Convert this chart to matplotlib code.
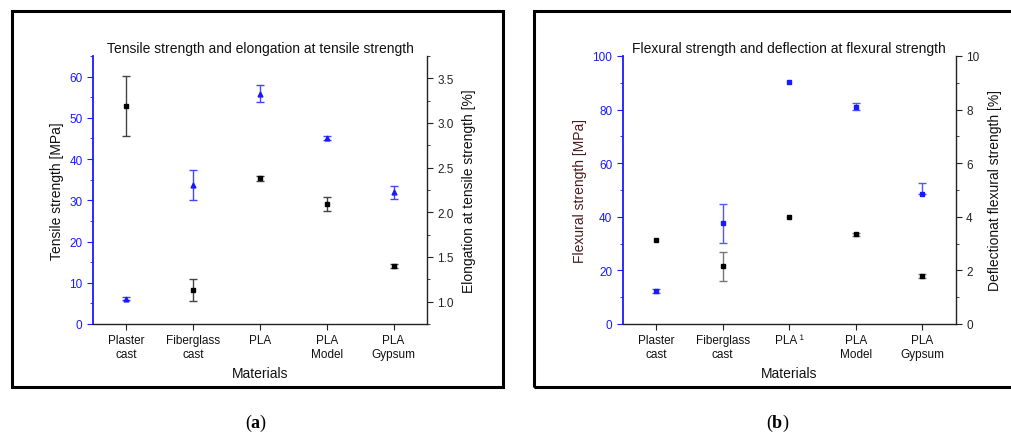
import numpy as np
import matplotlib
matplotlib.use('Agg')
import matplotlib.pyplot as plt
from matplotlib.patches import Rectangle
from matplotlib.ticker import MultipleLocator

plt.rcParams['font.family'] = ['Liberation Sans', 'DejaVu Sans']
plt.rcParams['mathtext.fontset'] = 'custom'
plt.rcParams['mathtext.bf'] = 'Liberation Serif:bold'
plt.rcParams['mathtext.rm'] = 'Liberation Serif'

BLUE = '#1a1aff'
DARK = '#222222'

# (a) tensile test
labels_a = ['Plaster\ncast', 'Fiberglass\ncast', 'PLA', 'PLA\nModel', 'PLA\nGypsum']
tensile = [6.1, 33.7, 55.9, 45.1, 31.9]
tensile_err = [0.4, 3.6, 2.1, 0.5, 1.5]
elong = [3.19, 1.13, 2.38, 2.09, 1.40]
elong_err = [0.34, 0.125, 0.03, 0.08, 0.02]

# (b) flexural test
labels_b = ['Plaster\ncast', 'Fiberglass\ncast', 'PLA ¹', 'PLA\nModel', 'PLA\nGypsum']
flex = [12.3, 37.6, 90.3, 81.0, 48.6]
flex_err_lo = [0.7, 7.2, 0.0, 1.3, 0.0]
flex_err_hi = [0.7, 7.2, 0.0, 1.3, 4.1]
defl = [3.12, 2.16, 4.00, 3.35, 1.78]
defl_err = [0.0, 0.54, 0.0, 0.05, 0.08]

W, H = 1011, 435
fig = plt.figure(figsize=(W / 100, H / 100), dpi=100)

# outer frames
for x0, x1 in [(12, 503), (534, 1020)]:
    fig.patches.append(Rectangle((x0 / W, 1 - 388 / H), (x1 - x0) / W, (388 - 12) / H,
                                 transform=fig.transFigure, fill=False,
                                 edgecolor='black', linewidth=2.2))


def points(ax, xs, ys, lo, hi, marker, color, ecolor, ms):
    # markers for every point, error bars only where there is a spread
    ax.plot(xs, ys, linestyle='none', marker=marker, color=color, ms=ms, zorder=4)
    for xi, yi, l, h in zip(xs, ys, lo, hi):
        if l > 0 or h > 0:
            ax.errorbar([xi], [yi], yerr=[[l], [h]], fmt='none', ecolor=ecolor,
                        elinewidth=1.0, capsize=3, capthick=1.0, zorder=3)


def style(ax, ax2, left_label, right_label, left_label_color):
    ax.spines['top'].set_visible(False)
    ax.spines['right'].set_visible(False)
    ax.spines['left'].set_color(BLUE)
    ax.spines['left'].set_linewidth(1.3)
    ax.spines['bottom'].set_color(DARK)
    ax.spines['bottom'].set_linewidth(1.0)
    for s in ['top', 'left', 'bottom']:
        ax2.spines[s].set_visible(False)
    ax2.spines['right'].set_color(DARK)
    ax2.spines['right'].set_linewidth(1.0)
    ax.tick_params(axis='y', which='both', colors=BLUE, labelsize=8.5, direction='out')
    ax.tick_params(axis='y', which='major', length=4)
    ax.tick_params(axis='y', which='minor', length=2.5)
    ax.tick_params(axis='x', colors=DARK, labelcolor='#111111', labelsize=8.5, length=4)
    ax2.tick_params(axis='y', which='both', colors=DARK, labelsize=8.5, direction='out')
    ax2.tick_params(axis='y', which='major', length=4)
    ax2.tick_params(axis='y', which='minor', length=2.5)
    ax.set_ylabel(left_label, fontsize=10, color=left_label_color, labelpad=4)
    ax2.set_ylabel(right_label, fontsize=10, color='#111111', labelpad=6)
    ax.set_xlabel('Materials', fontsize=10, color='#111111', labelpad=4)
    ax.set_xlim(0.5, 5.5)
    ax.set_facecolor('none')


x = np.arange(1, 6)

# panel (a)
axa = fig.add_axes([93 / W, 1 - 325 / H, 334 / W, 268 / H])
axa2 = axa.twinx()
points(axa2, x, elong, elong_err, elong_err, 's', 'black', '#444444', 3.2)
points(axa, x, tensile, tensile_err, tensile_err, '^', BLUE, '#4444ff', 3.5)
axa.set_zorder(axa2.get_zorder() + 1)
axa.set_ylim(0, 65)
axa.yaxis.set_major_locator(MultipleLocator(10))
axa.yaxis.set_minor_locator(MultipleLocator(5))
axa2.set_ylim(0.75, 3.75)
axa2.set_yticks([1.0, 1.5, 2.0, 2.5, 3.0, 3.5])
axa2.yaxis.set_minor_locator(MultipleLocator(0.25))
axa.set_xticks(x, labels_a)
style(axa, axa2, 'Tensile strength [MPa]', 'Elongation at tensile strength [%]', '#111111')
axa.set_title('Tensile strength and elongation at tensile strength', fontsize=10,
              color='#111111', pad=3)

# panel (b)
axb = fig.add_axes([622.7 / W, 1 - 325 / H, 333 / W, 268 / H])
axb2 = axb.twinx()
points(axb2, x, defl, defl_err, defl_err, 's', 'black', '#777777', 3.2)
points(axb, x, flex, flex_err_lo, flex_err_hi, 's', BLUE, '#5555ff', 3.2)
axb.set_zorder(axb2.get_zorder() + 1)
axb.set_ylim(0, 100)
axb.yaxis.set_major_locator(MultipleLocator(20))
axb.yaxis.set_minor_locator(MultipleLocator(10))
axb2.set_ylim(0, 10)
axb2.yaxis.set_major_locator(MultipleLocator(2))
axb2.yaxis.set_minor_locator(MultipleLocator(1))
axb.set_xticks(x, labels_b)
style(axb, axb2, 'Flexural strength [MPa]', 'Deflectionat flexural strength [%]', '#4a1c1c')
axb.set_title('Flexural strength and deflection at flexural strength', fontsize=10,
              color='#111111', pad=3)

# panel letters
fig.text(256 / W, 1 - 423 / H, r'($\mathbf{a}$)', family='Liberation Serif',
         fontsize=13, ha='center', va='center')
fig.text(778 / W, 1 - 423 / H, r'($\mathbf{b}$)', family='Liberation Serif',
         fontsize=13, ha='center', va='center')

fig.savefig('out.png', dpi=100)
